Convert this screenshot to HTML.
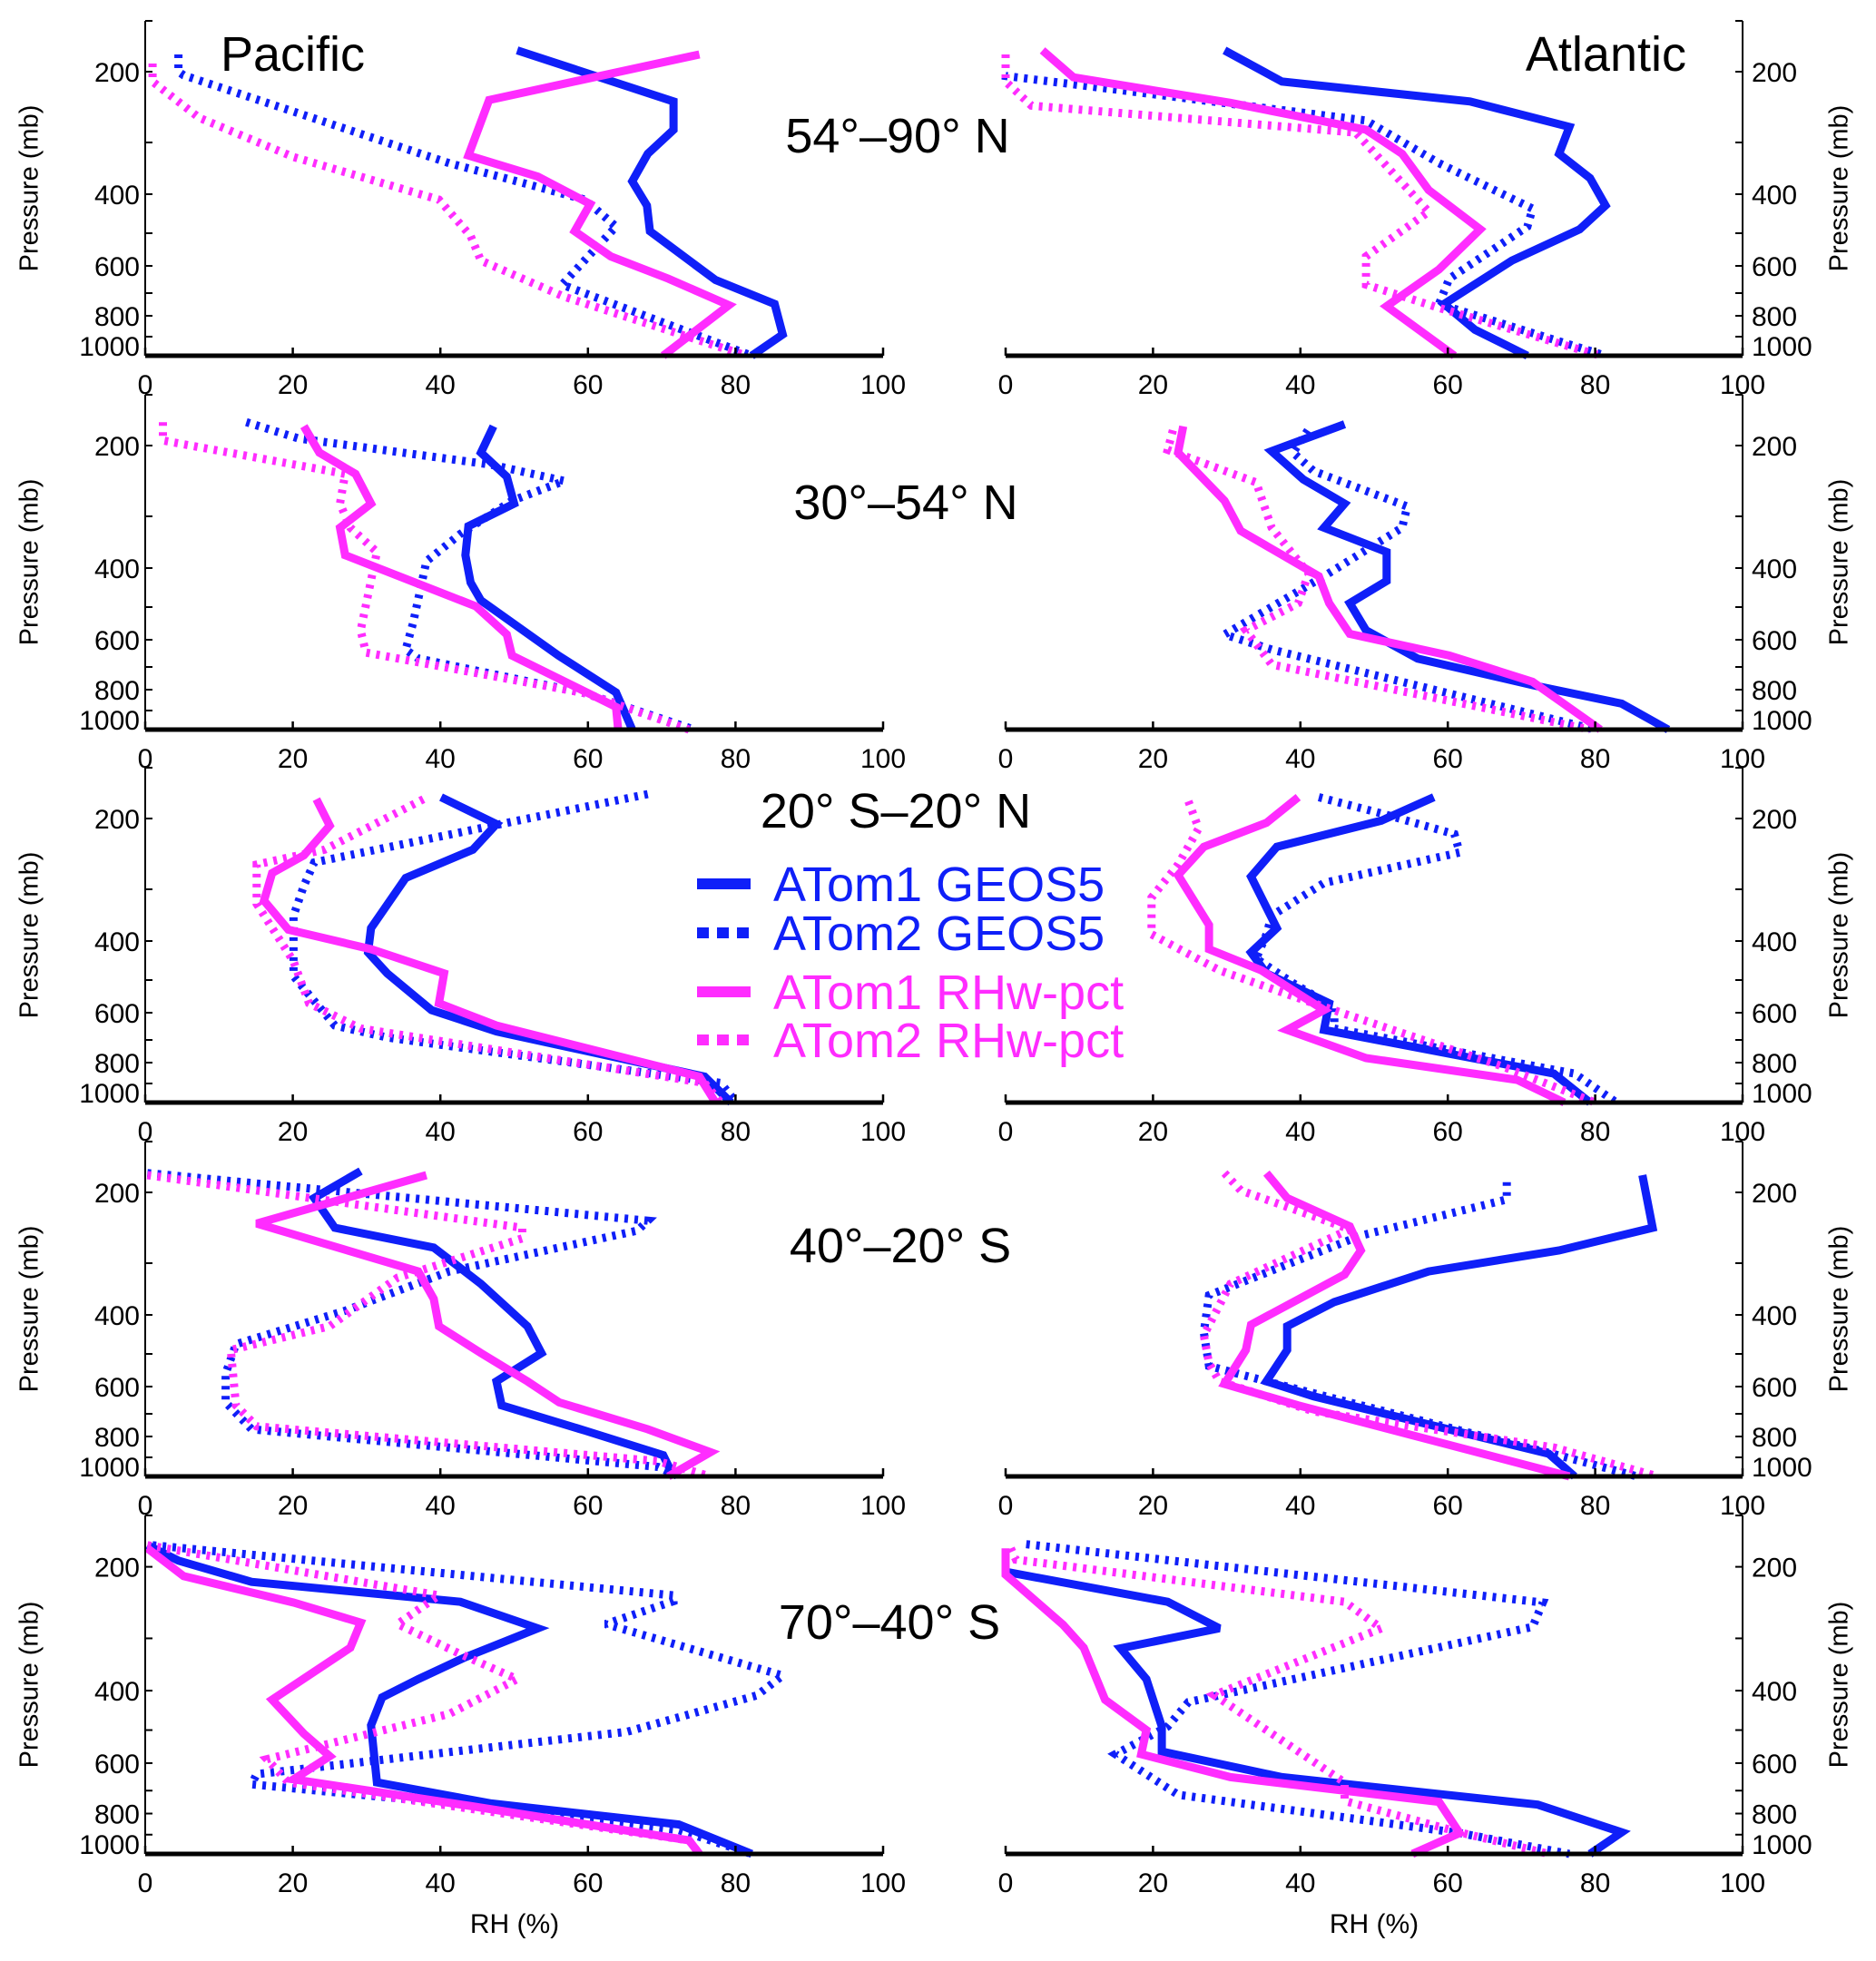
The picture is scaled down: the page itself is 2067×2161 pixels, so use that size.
<!DOCTYPE html>
<html><head><meta charset="utf-8">
<style>
html,body{margin:0;padding:0;background:#fff;}
svg{display:block;font-family:"Liberation Sans",Arial,sans-serif;}
</style></head>
<body>
<svg id="chart" width="2067" height="2161" viewBox="0 0 2067 2161" xmlns="http://www.w3.org/2000/svg"></svg>
<script>
// ---------- data (RH %, pressure mb) ----------
const xTicks = [0,20,40,60,80,100];
const yTickLabels = [200,400,600,800,1000];
const yMinorTicks = [300,500,700];
const regionTitles = ["54°–90° N","30°–54° N","20° S–20° N","40°–20° S","70°–40° S"];
const seriesNames = ["ATom1 GEOS5","ATom2 GEOS5","ATom1 RHw-pct","ATom2 RHw-pct"];

// Row 1 Pacific
const r1p_a1g_rh=[50.4,71.6,71.6,68.1,66,68,68.4,77.3,85.3,86.4,82.2];
const r1p_a1g_p =[179,242,282,322,375,429,495,652,748,979,1100];
const r1p_a2g_rh=[4.5,4.5,5.2,41.2,59.6,63.8,56.5,82.2];
const r1p_a2g_p =[183,200,205,340,414,483,669,1100];
const r1p_a1r_rh=[75.1,46.6,43.8,53.2,60.3,58.2,63.1,70.9,79.1,70.2];
const r1p_a1r_p =[183,240,325,366,425,495,571,647,753,1100];
const r1p_a2r_rh=[1,1,7.3,20.1,39.8,44.1,45.5,56.8,81.5];
const r1p_a2r_p =[192,214,265,328,414,508,584,716,1100];
// Row 1 Atlantic
const r1a_a1g_rh=[29.7,37.5,63,76.5,75.1,79.3,81.4,77.9,68.7,59.5,63.7,70.8];
const r1a_a1g_p =[179,214,242,278,322,369,429,490,584,748,934,1100];
const r1a_a2g_rh=[0,0,48.9,58.8,71.5,70.8,60.2,58.8,81.4];
const r1a_a2g_p =[183,206,269,340,437,483,647,748,1100];
const r1a_a1r_rh=[5,9.2,30.5,48.9,53.8,57.4,64.4,58.8,51.7,60.9];
const r1a_a1r_p =[179,208,244,282,322,392,490,613,758,1100];
const r1a_a2r_rh=[0,0,3.5,47.5,57.4,48.9,48.9,58.8,80.7];
const r1a_a2r_p =[183,214,248,286,445,571,669,765,1100];
// Row 2 Pacific
const r2p_a1g_rh=[47.2,45.5,49,50,43.8,43.4,44.1,45.5,56,63.8,66];
const r2p_a1g_p =[181,210,244,282,319,375,437,483,658,826,1100];
const r2p_a2g_rh=[13.7,20.8,46.9,56.8,49.7,42.7,38.1,36.3,35.3,37,59.6,74.4];
const r2p_a2g_p =[177,193,227,250,278,334,387,549,636,669,834,1100];
const r2p_a1r_rh=[21.5,23.6,28.5,30.6,26.4,27.1,44.8,49,49.7,63.8,64.1];
const r2p_a1r_p =[181,210,240,282,322,375,498,584,658,965,1100];
const r2p_a2r_rh=[2.4,2.4,27.1,26.4,27.8,31.4,29.2,29.9,59.6,73.7];
const r2p_a2r_p =[177,195,240,282,322,369,571,647,834,1100];
// Row 2 Atlantic
const r2a_a1g_rh=[46,36.1,40.4,46,43.2,51.7,51.7,46.7,48.9,55.9,71.5,83.6,89.9];
const r2a_a1g_p =[179,208,248,282,322,369,433,490,571,669,780,934,1100];
const r2a_a2g_rh=[41,39,41.8,54.5,53.8,43.2,29.7,36.1,80];
const r2a_a2g_p =[185,210,236,286,322,421,584,636,1100];
const r2a_a1r_rh=[24.1,23.4,29.7,31.9,42.5,43.9,46.7,60.2,71.5,80.7];
const r2a_a1r_p =[181,210,278,328,421,490,582,658,765,1100];
const r2a_a2r_rh=[22.7,22,34,36.1,41.1,39.7,32.6,36.1,79.3];
const r2a_a2r_p =[185,206,252,322,414,490,571,691,1100];
// Row 3 Pacific
const r3p_a1g_rh=[40.1,47.6,44.4,35.3,30.6,30.2,32.8,38.8,47.6,75.8,79.4];
const r3p_a1g_p =[179,208,244,284,375,429,483,592,669,934,1100];
const r3p_a2g_rh=[68.1,46.2,22.9,21.5,20.1,20.1,20.1,25.7,32.8,78,80.1];
const r3p_a2g_p =[176,212,262,295,351,414,490,647,691,995,1100];
const r3p_a1r_rh=[23.2,25,21.5,17.2,16.1,19.4,30.6,40.5,39.8,47.6,75.1,77.3];
const r3p_a1r_p =[181,210,252,277,322,378,421,483,571,647,934,1100];
const r3p_a2r_rh=[37.7,24.3,15.1,15.1,20.1,22.2,29.2,75.8,78];
const r3p_a2r_p =[181,244,265,328,452,571,658,995,1100];
// Row 3 Atlantic
const r3a_a1g_rh=[58.1,51,36.8,33.3,36.8,33.3,35.4,43.9,43.2,74.4,79.3];
const r3a_a1g_p =[179,203,240,282,375,429,483,571,663,905,1100];
const r3a_a2g_rh=[42.5,51,60.9,61.6,43.2,36.1,35.4,34,38.9,44.6,44.6,77.2,82.9];
const r3a_a2g_p =[179,195,222,248,291,351,387,445,508,584,658,905,1100];
const r3a_a1r_rh=[39.7,35.4,26.9,23.4,27.6,27.6,34.7,43.2,38.2,48.9,69.4,75.8];
const r3a_a1r_p =[179,206,240,280,369,421,475,592,663,780,965,1100];
const r3a_a2r_rh=[24.8,26.2,23.4,19.8,19.8,29,38.9,46,67.3,80];
const r3a_a2r_p =[183,214,265,316,387,475,549,604,834,1100];
// Row 4 Pacific
const r4p_a1g_rh=[29.2,22.9,25.7,39.1,45.5,51.8,53.7,47.6,48.3,59.6,70.2,71.6];
const r4p_a1g_p =[179,208,250,278,340,429,498,584,669,774,979,1100];
const r4p_a2g_rh=[0.3,68.1,66.7,41.2,27.1,12.3,10.9,10.9,14.4,69.5,72.3];
const r4p_a2g_p =[181,240,254,316,392,475,560,658,768,1050,1100];
const r4p_a1r_rh=[38.1,15.1,37,39.1,39.8,45.5,51.8,56.1,68.1,76.6,70.9];
const r4p_a1r_p =[183,244,316,369,429,498,584,658,768,950,1100];
const r4p_a2r_rh=[0.3,51.1,51.1,34.2,25,11.6,12.3,15.1,69.5,76.6];
const r4p_a2r_p =[183,250,265,328,429,490,669,755,1020,1100];
// Row 4 Atlantic
const r4a_a1g_rh=[86.4,87.8,75.1,57.4,44.6,38.2,38.2,35.4,41.8,73.7,77.2];
const r4a_a1g_p =[183,250,282,316,375,429,490,584,636,965,1100];
const r4a_a2g_rh=[68,68,48.2,27.6,26.9,27.6,35.4,75.8,85.7];
const r4a_a2g_p =[190,210,261,362,445,537,584,995,1100];
const r4a_a1r_rh=[35.4,38.2,46.7,48.2,46,33.3,32.6,29.7,39.7,76.5];
const r4a_a1r_p =[181,208,248,282,322,425,490,592,669,1100];
const r4a_a2r_rh=[29.7,31.9,46.7,30.5,26.9,27.6,29,41.8,74.4,88.5];
const r4a_a2r_p =[181,198,252,340,452,528,584,691,905,1100];
// Row 5 Pacific
const r5p_a1g_rh=[0.3,4.5,14.4,42.7,53.2,43.4,37,32.1,30.6,31.4,46.9,72.3,82.2];
const r5p_a1g_p =[179,194,221,249,286,336,378,417,488,670,756,903,1100];
const r5p_a2g_rh=[1,71.6,71.6,62.4,86.4,82.9,65.3,15.1,14.4,44.1,72.3,82.2];
const r5p_a2g_p =[179,240,248,280,371,412,505,640,677,764,956,1100];
const r5p_a1r_rh=[0.3,5.2,20.1,29.2,27.8,17.2,21.5,25,20.1,44.1,73.7,75.1];
const r5p_a1r_p =[182,213,250,278,318,423,511,579,659,767,1030,1100];
const r5p_a2r_rh=[0.3,39.8,34.2,42.7,50.4,41.2,16.5,19.4,73.7,75.1];
const r5p_a2r_p =[179,240,280,330,378,459,588,670,1030,1100];
// Row 5 Atlantic
const r5a_a1g_rh=[0,22,29,15.6,19.1,21.2,21.2,37.5,72.2,83.6,79.3];
const r5a_a1g_p =[207,249,286,319,378,491,565,651,761,978,1100];
const r5a_a2g_rh=[2.8,72.9,72.2,71.5,24.8,22,14.9,23.4,61.6,76.5];
const r5a_a2g_p =[178,250,267,284,429,491,573,718,985,1100];
const r5a_a1r_rh=[0,0,7.8,10.6,13.5,19.1,18.4,30.5,58.8,61.6,55.2];
const r5a_a1r_p =[182,211,281,318,423,500,573,651,749,985,1100];
const r5a_a2r_rh=[0.7,1.4,46,51,28.3,46,46,61.6,73.7];
const r5a_a2r_p =[182,193,249,286,411,670,745,978,1100];

const panelSeries = [
 [[r1p_a1g_rh,r1p_a1g_p],[r1p_a2g_rh,r1p_a2g_p],[r1p_a1r_rh,r1p_a1r_p],[r1p_a2r_rh,r1p_a2r_p]],
 [[r1a_a1g_rh,r1a_a1g_p],[r1a_a2g_rh,r1a_a2g_p],[r1a_a1r_rh,r1a_a1r_p],[r1a_a2r_rh,r1a_a2r_p]],
 [[r2p_a1g_rh,r2p_a1g_p],[r2p_a2g_rh,r2p_a2g_p],[r2p_a1r_rh,r2p_a1r_p],[r2p_a2r_rh,r2p_a2r_p]],
 [[r2a_a1g_rh,r2a_a1g_p],[r2a_a2g_rh,r2a_a2g_p],[r2a_a1r_rh,r2a_a1r_p],[r2a_a2r_rh,r2a_a2r_p]],
 [[r3p_a1g_rh,r3p_a1g_p],[r3p_a2g_rh,r3p_a2g_p],[r3p_a1r_rh,r3p_a1r_p],[r3p_a2r_rh,r3p_a2r_p]],
 [[r3a_a1g_rh,r3a_a1g_p],[r3a_a2g_rh,r3a_a2g_p],[r3a_a1r_rh,r3a_a1r_p],[r3a_a2r_rh,r3a_a2r_p]],
 [[r4p_a1g_rh,r4p_a1g_p],[r4p_a2g_rh,r4p_a2g_p],[r4p_a1r_rh,r4p_a1r_p],[r4p_a2r_rh,r4p_a2r_p]],
 [[r4a_a1g_rh,r4a_a1g_p],[r4a_a2g_rh,r4a_a2g_p],[r4a_a1r_rh,r4a_a1r_p],[r4a_a2r_rh,r4a_a2r_p]],
 [[r5p_a1g_rh,r5p_a1g_p],[r5p_a2g_rh,r5p_a2g_p],[r5p_a1r_rh,r5p_a1r_p],[r5p_a2r_rh,r5p_a2r_p]],
 [[r5a_a1g_rh,r5a_a1g_p],[r5a_a2g_rh,r5a_a2g_p],[r5a_a1r_rh,r5a_a1r_p],[r5a_a2r_rh,r5a_a2r_p]]
];

// ---------- layout ----------
const NS="http://www.w3.org/2000/svg";
const svg=document.getElementById('chart');
const BLUE="#0f1ff8", MAG="#ff2cff";
const styles=[{c:BLUE,d:null},{c:BLUE,d:"4 7"},{c:MAG,d:null},{c:MAG,d:"4 7"}];
const rowTops=[23,435,846,1258,1670];
const rowH=[369,369,369,369,373];
const colX=[[160,973],[1108,1920]];
const titleX=[989,998,987,992,980];
const titleY=[149,553,893,1372,1787];
const PA=[150,200,300,400,500,600,700,800,1000,1100];
const OA=[0,56,134,191,234,270,300,325,348,369];

function mk(tag,attrs,parent){const e=document.createElementNS(NS,tag);for(const k in attrs)e.setAttribute(k,attrs[k]);(parent||svg).appendChild(e);return e;}
function yScale(p,row){
  let o=OA[OA.length-1];
  for(let i=0;i<PA.length-1;i++){ if(p<=PA[i+1]){ o=OA[i]+(p-PA[i])/(PA[i+1]-PA[i])*(OA[i+1]-OA[i]); break; } }
  if(p<PA[0]) o=0;
  return rowTops[row]+o*rowH[row]/369;
}
function xScale(rh,col){return colX[col][0]+rh/100*(colX[col][1]-colX[col][0]);}

for(let row=0;row<5;row++){
  for(let col=0;col<2;col++){
    const g=mk('g',{});
    
    
    const x0=colX[col][0],x1=colX[col][1],top=rowTops[row],bot=top+rowH[row];
    // series
    const ser=panelSeries[row*2+col];
    ser.forEach((s,i)=>{
      const pts=s[0].map((v,k)=>xScale(v,col).toFixed(1)+','+yScale(s[1][k],row).toFixed(1)).join(' ');
      const pl=mk('polyline',{points:pts,fill:'none',stroke:styles[i].c,'stroke-width':9,'stroke-linejoin':'miter','stroke-miterlimit':3},g);
      if(styles[i].d) pl.setAttribute('stroke-dasharray',styles[i].d);
      
      
    });
    // bottom axis
    const ax=mk('line',{x1:x0,y1:bot,x2:x1,y2:bot,stroke:'#000','stroke-width':5},g);
    
    
    xTicks.forEach(t=>{
      const x=xScale(t,col);
      mk('line',{x1:x,y1:bot,x2:x,y2:bot-9,stroke:'#000','stroke-width':2.5},g);
      const tx=mk('text',{x:x,y:bot+42,'font-size':30,'text-anchor':'middle',fill:'#000'},g);
      tx.textContent=t;
      
      
    });
    // y spine
    const sx=col===0?x0:x1, dir=col===0?1:-1;
    const sp=mk('line',{x1:sx,y1:top,x2:sx,y2:bot,stroke:'#000','stroke-width':2},g);
    
    
    mk('line',{x1:sx,y1:top,x2:sx+dir*8,y2:top,stroke:'#000','stroke-width':2},g);
    yMinorTicks.forEach(p=>{const y=yScale(p,row);mk('line',{x1:sx,y1:y,x2:sx+dir*8,y2:y,stroke:'#000','stroke-width':2},g);});
    yTickLabels.forEach(p=>{
      const y=yScale(p,row);
      mk('line',{x1:sx,y1:y,x2:sx+dir*8,y2:y,stroke:'#000','stroke-width':2},g);
      const tx=mk('text',{x:col===0?sx-6:sx+10,y:y+(p===1000?21:11),'font-size':30,'text-anchor':col===0?'end':'start',fill:'#000'},g);
      tx.textContent=p;
      
      
    });
    const lx=col===0?34:2028, ly=top+rowH[row]/2;
    const yl=mk('text',{x:lx,y:ly,'font-size':29,'text-anchor':'middle',fill:'#000',transform:'rotate(-90 '+lx+' '+ly+')','dominant-baseline':'middle'},g);
    yl.textContent='Pressure (mb)';
    
    
  }
  const t=mk('text',{x:titleX[row],y:titleY[row]+19,'font-size':54,'text-anchor':'middle',fill:'#000'});
  t.textContent=regionTitles[row];
  
  
}
// ocean labels
const pac=mk('text',{x:243,y:78,'font-size':54,fill:'#000'});pac.textContent='Pacific';


const atl=mk('text',{x:1858,y:78,'font-size':54,fill:'#000','text-anchor':'end'});atl.textContent='Atlantic';


// x-axis titles
[[567,0],[1514,1]].forEach(a=>{const t=mk('text',{x:a[0],y:2130,'font-size':30,'text-anchor':'middle',fill:'#000'});t.textContent='RH (%)';

});
// legend
const lg=mk('g',{});


const legY=[974,1028,1093,1146];
seriesNames.forEach((n,i)=>{
  const l=mk('line',{x1:768,y1:legY[i],x2:827,y2:legY[i],stroke:styles[i].c,'stroke-width':12},lg);
  if(styles[i].d) l.setAttribute('stroke-dasharray','13 9');
  
  
  const t=mk('text',{x:852,y:legY[i]+19,'font-size':54,fill:styles[i].c},lg);
  t.textContent=n;
  
  
});
</script>
</body></html>
